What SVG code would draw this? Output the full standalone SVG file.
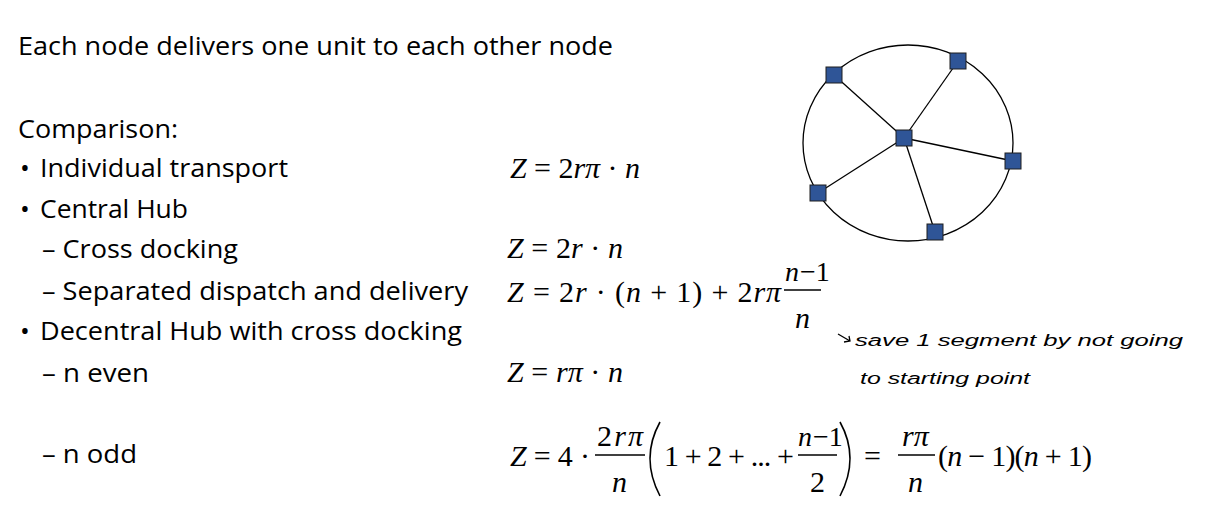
<svg xmlns="http://www.w3.org/2000/svg" width="1216" height="516" viewBox="0 0 1216 516">
<style>
.t{font-family:"Open Sans",sans-serif;font-size:26px;fill:#000}
.m{font-family:"Liberation Serif",serif;font-size:30px;fill:#000}
.i{font-style:italic}
.h{font-family:"Liberation Sans",sans-serif;font-size:16px;font-style:italic;fill:#000}
.nd{fill:#2f5597;stroke:#1f1f1f;stroke-width:1}
.ln{stroke:#000;stroke-width:1.3;fill:none}
</style>
<rect width="1216" height="516" fill="#fff"/>
<text class="t" x="18" y="55" textLength="595" lengthAdjust="spacingAndGlyphs">Each node delivers one unit to each other node</text>
<text class="t" x="18" y="138" textLength="160" lengthAdjust="spacingAndGlyphs">Comparison:</text>
<text class="t" x="20" y="177">•</text><text class="t" x="40" y="177" textLength="248" lengthAdjust="spacingAndGlyphs">Individual transport</text>
<text class="t" x="20" y="218">•</text><text class="t" x="40" y="218" textLength="148" lengthAdjust="spacingAndGlyphs">Central Hub</text>
<text class="t" x="42" y="258" textLength="196" lengthAdjust="spacingAndGlyphs">– Cross docking</text>
<text class="t" x="42" y="300" textLength="426" lengthAdjust="spacingAndGlyphs">– Separated dispatch and delivery</text>
<text class="t" x="20" y="340">•</text><text class="t" x="40" y="340" textLength="422" lengthAdjust="spacingAndGlyphs">Decentral Hub with cross docking</text>
<text class="t" x="42" y="382" textLength="107" lengthAdjust="spacingAndGlyphs">– n even</text>
<text class="t" x="42" y="463" textLength="95" lengthAdjust="spacingAndGlyphs">– n odd</text>
<g id="formulas">
<text class="m" x="510" y="178" textLength="130" lengthAdjust="spacing"><tspan class="i">Z</tspan> = 2<tspan class="i">rπ</tspan> · <tspan class="i">n</tspan></text>
<text class="m" x="507" y="258" textLength="116" lengthAdjust="spacing"><tspan class="i">Z</tspan> = 2<tspan class="i">r</tspan> · <tspan class="i">n</tspan></text>
<text class="m" x="507" y="302" textLength="274" lengthAdjust="spacing"><tspan class="i">Z</tspan> = 2<tspan class="i">r</tspan> · (<tspan class="i">n</tspan> + 1) + 2<tspan class="i">rπ</tspan></text>
<text class="m" x="785" y="281" style="font-size:28px"><tspan class="i">n</tspan><tspan dx="1">−1</tspan></text>
<line class="ln" x1="784" y1="290" x2="821" y2="290"/>
<text class="m i" x="795" y="328">n</text>
<text class="m" x="507" y="382" textLength="116" lengthAdjust="spacing"><tspan class="i">Z</tspan> = <tspan class="i">rπ</tspan> · <tspan class="i">n</tspan></text>
<text class="m" x="510" y="466" textLength="80" lengthAdjust="spacing"><tspan class="i">Z</tspan> = 4 ·</text>
<text class="m" x="597" y="446" textLength="46" lengthAdjust="spacing">2<tspan class="i">rπ</tspan></text>
<line class="ln" x1="595" y1="455" x2="645" y2="455"/>
<text class="m i" x="612" y="492">n</text>
<path d="M660 422 Q640 458 660 496" stroke="#000" stroke-width="1.6" fill="none"/>
<text class="m" x="664" y="466" textLength="130" lengthAdjust="spacing">1 + 2 + ... +</text>
<text class="m" x="798" y="446" style="font-size:28px"><tspan class="i">n</tspan><tspan dx="1">−1</tspan></text>
<line class="ln" x1="798" y1="455" x2="837" y2="455"/>
<text class="m" x="810" y="492">2</text>
<path d="M840 422 Q860 458 840 496" stroke="#000" stroke-width="1.6" fill="none"/>
<text class="m" x="864" y="466">=</text>
<text class="m i" x="902" y="446">rπ</text>
<line class="ln" x1="898" y1="455" x2="935" y2="455"/>
<text class="m i" x="908" y="492">n</text>
<text class="m" x="938" y="466" textLength="154" lengthAdjust="spacing">(<tspan class="i">n</tspan> − 1)(<tspan class="i">n</tspan> + 1)</text>
</g>
<g id="note">
<path class="ln" d="M838 334 L850 341 M844 342 L850 341 L849 336"/>
<text class="h" x="855" y="346" textLength="328" lengthAdjust="spacingAndGlyphs">save 1 segment by not going</text>
<text class="h" x="860" y="384" textLength="170" lengthAdjust="spacingAndGlyphs">to starting point</text>
</g>
<g id="connectors">
<ellipse class="ln" cx="908" cy="143" rx="105" ry="98"/>
<line class="ln" x1="904" y1="138" x2="834" y2="75"/>
<line class="ln" x1="904" y1="138" x2="958" y2="61"/>
<line class="ln" x1="904" y1="138" x2="1013" y2="161"/>
<line class="ln" x1="904" y1="138" x2="818" y2="193"/>
<line class="ln" x1="904" y1="138" x2="935" y2="232"/>
</g>
<g id="hub"><rect class="nd" x="896" y="130" width="16" height="16"/></g>
<g id="n1"><rect class="nd" x="826" y="67" width="16" height="16"/></g>
<g id="n2"><rect class="nd" x="950" y="53" width="16" height="16"/></g>
<g id="n3"><rect class="nd" x="1005" y="153" width="16" height="16"/></g>
<g id="n4"><rect class="nd" x="810" y="185" width="16" height="16"/></g>
<g id="n5"><rect class="nd" x="927" y="224" width="16" height="16"/></g>
</svg>
